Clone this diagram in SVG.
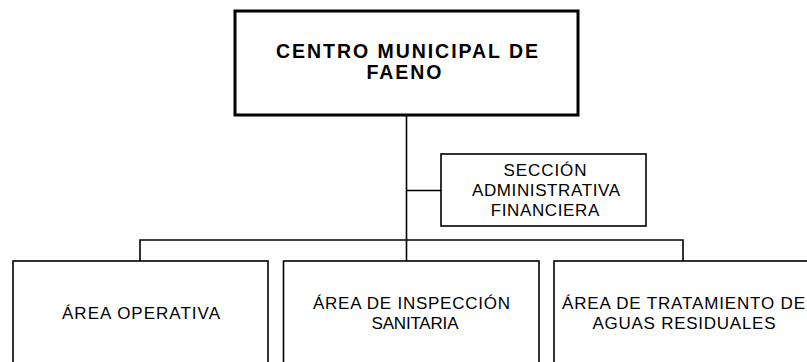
<svg xmlns="http://www.w3.org/2000/svg" width="807" height="362" viewBox="0 0 807 362">
<style>
.box{fill:#fff;stroke:#000;stroke-width:1.6}
.top{fill:#fff;stroke:#000;stroke-width:3}
.t{font-family:"Liberation Sans",Arial,sans-serif;font-size:17px;fill:#000;text-anchor:middle}
.tb{font-family:"Liberation Sans",Arial,sans-serif;font-size:19.5px;font-weight:bold;fill:#000;text-anchor:middle}
.c{fill:none;stroke:#000;stroke-width:1.6}
</style>
<rect width="807" height="362" fill="#fff"/>
<g id="connectors">
<line class="c" x1="406.5" y1="115" x2="406.5" y2="261"/>
<line class="c" x1="406.5" y1="190.5" x2="441" y2="190.5"/>
<polyline class="c" points="140,261 140,240 683,240 683,261"/>
</g>
<g id="centro">
<rect class="top" x="235" y="11" width="343" height="104"/>
<text class="tb" x="407" y="57.5" textLength="262" lengthAdjust="spacing">CENTRO MUNICIPAL DE</text>
<text class="tb" x="404" y="78.5" textLength="75" lengthAdjust="spacing">FAENO</text>
</g>
<g id="seccion">
<rect class="box" x="441" y="154" width="205" height="72"/>
<text class="t" x="545" y="176" textLength="83" lengthAdjust="spacing">SECCIÓN</text>
<text class="t" x="546" y="196" textLength="148" lengthAdjust="spacing">ADMINISTRATIVA</text>
<text class="t" x="545" y="215.5" textLength="108.5" lengthAdjust="spacing">FINANCIERA</text>
</g>
<g id="operativa">
<rect class="box" x="13" y="261" width="255" height="110"/>
<text class="t" x="141" y="319" textLength="158" lengthAdjust="spacing">ÁREA OPERATIVA</text>
</g>
<g id="inspeccion">
<rect class="box" x="283.5" y="261" width="255.5" height="110"/>
<text class="t" x="411.5" y="308.5" textLength="197" lengthAdjust="spacing">ÁREA DE INSPECCIÓN</text>
<text class="t" x="415" y="329" textLength="87" lengthAdjust="spacing">SANITARIA</text>
</g>
<g id="tratamiento">
<rect class="box" x="554" y="261" width="256" height="110"/>
<text class="t" x="683.5" y="308.5" textLength="243" lengthAdjust="spacing">ÁREA DE TRATAMIENTO DE</text>
<text class="t" x="684" y="329" textLength="183" lengthAdjust="spacing">AGUAS RESIDUALES</text>
</g>
</svg>
